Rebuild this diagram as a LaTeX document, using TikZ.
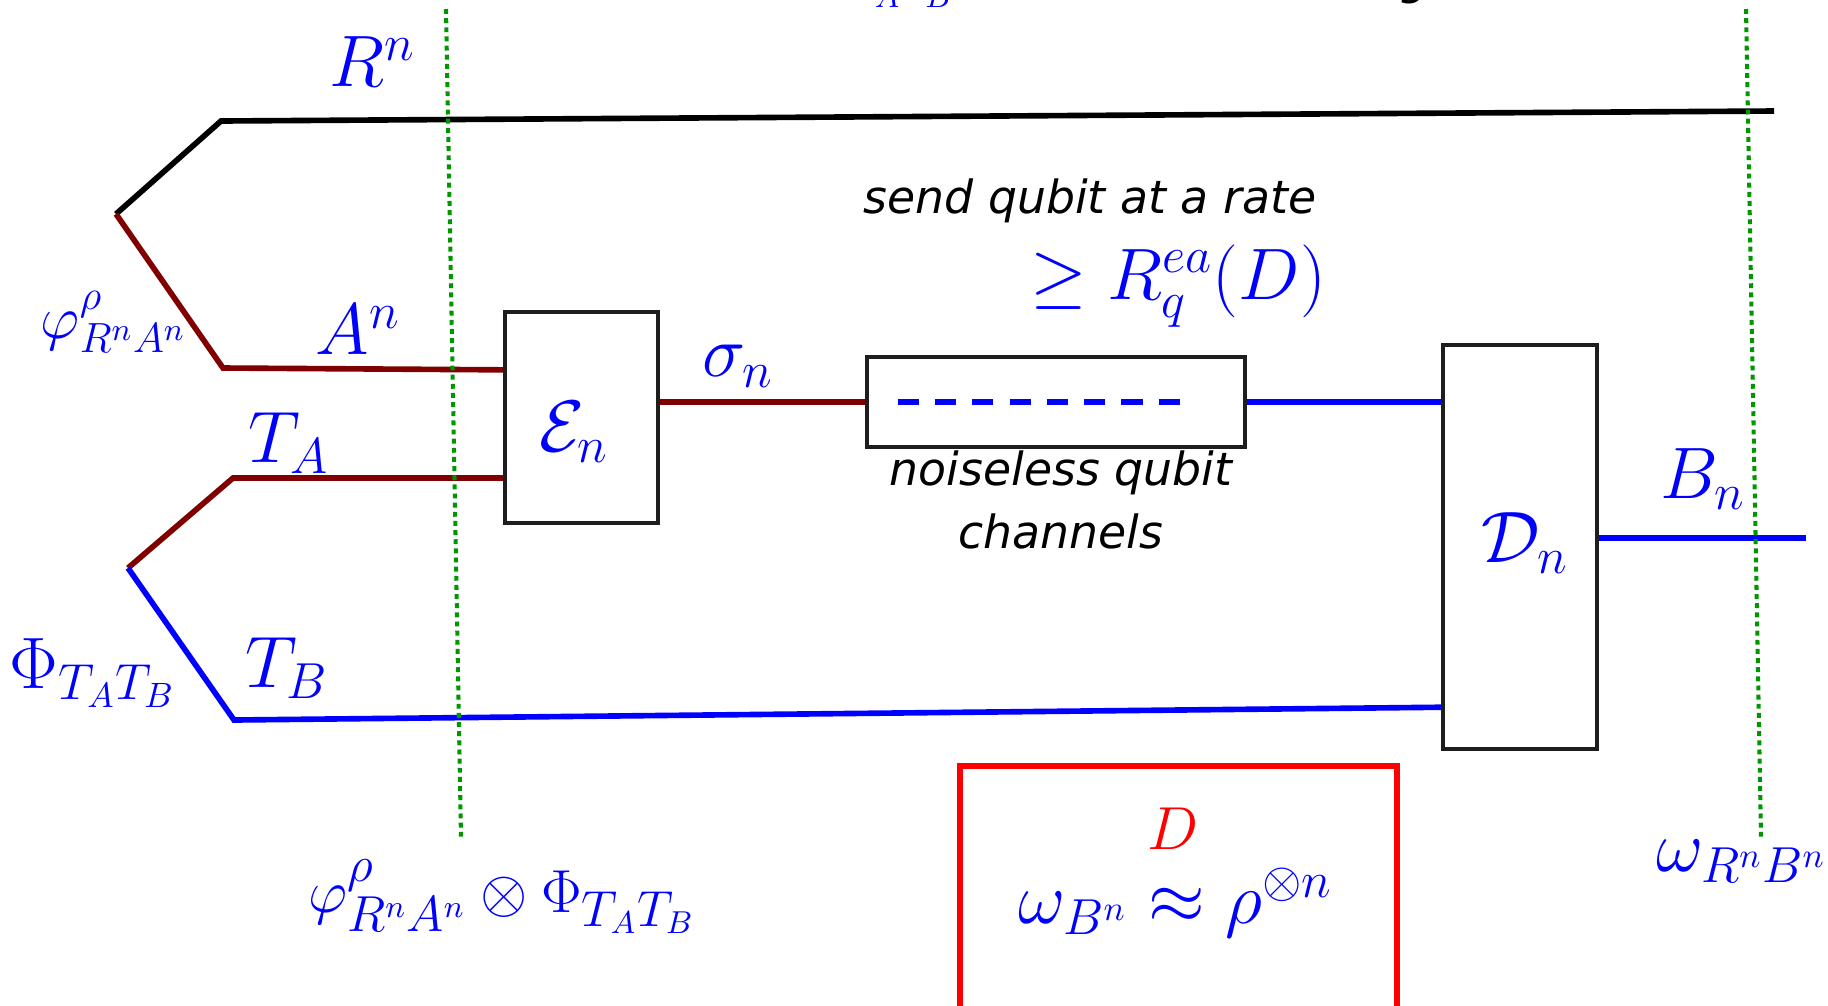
\documentclass[tikz,border=0pt]{standalone}
\usepackage{fontspec}
\usetikzlibrary{calc}
\newfontfamily\vsans{DejaVu Sans}
\definecolor{dred}{RGB}{128,0,0}
\definecolor{dgreen}{RGB}{0,150,0}
\definecolor{boxgray}{RGB}{30,30,30}
\newcommand\myfs[1]{\fontsize{#1}{#1}\selectfont}
\begin{document}
\begin{tikzpicture}[x=0.01cm,y=-0.01cm,
  wire/.style={line width=1.6pt},
  boxnode/.style={draw=boxgray,line width=1.2pt,rectangle,inner sep=0pt},
  mth/.style={text=blue,inner sep=0pt,font=\myfs{20}},
  txt/.style={text=black,inner sep=0pt,font=\vsans\itshape\myfs{13}},
  guide/.style={draw=dgreen,line width=1.15pt,dash pattern=on 1.4pt off 1.2pt}]
\useasboundingbox (0,0) rectangle (1828,1005);
\clip (0,0) rectangle (1828,1005);
% boxes
\node[boxnode,minimum width=1.53cm,minimum height=2.11cm] (En) at (581.5,417.5) {};
\node[boxnode,minimum width=3.78cm,minimum height=0.90cm] (Ch) at (1056,402) {};
\node[boxnode,minimum width=1.54cm,minimum height=4.04cm] (Dc) at (1520,547) {};
% coordinates
\coordinate (j1) at (116,214);
\coordinate (r1) at (221,121);
\coordinate (r2) at (1774,111);
\coordinate (a1) at (223,368);
\coordinate (j2) at (128,568);
\coordinate (t1) at (233,478);
\coordinate (b1) at (234,720);
\coordinate (bend) at (1806,538);
\coordinate (g1t) at (446,9);
\coordinate (g1b) at (461,838);
\coordinate (g2t) at (1746,9);
\coordinate (g2b) at (1761,838);
% wires
\draw[wire] (j1) -- (r1) -- (r2);
\draw[wire,dred] (j1) -- (a1) -- ($(En.north west)+(0,60)$);
\draw[wire,dred] (j2) -- (t1) -- (t1 -| En.west);
\draw[wire,blue] (j2) -- (b1) -- ($(Dc.south west)+(0,-44)$);
\draw[wire,dred] (Ch.west -| En.east) -- (Ch.west);
\draw[wire,blue,dash pattern=on 6pt off 4.6pt] ($(Ch.west)+(33,0)$) -- ($(Ch.west)+(318,0)$);
\draw[wire,blue] (Ch.east) -- (Ch.east -| Dc.west);
\draw[wire,blue] (Dc.east |- bend) -- (bend);
% guides
\draw[guide] (g1t) -- (g1b);
\draw[guide] (g2t) -- (g2b);
% red box
\draw[red,line width=1.5pt] (960,766) rectangle (1397,1040);
% labels
\node[mth] (lRn) at (373,62) {$R^n$};
\node[mth,font=\myfs{18}] (lphi) at (114,322) {$\varphi^{\rho}_{R^nA^n}$};
\node[mth] (lAn) at (358,330) {$A^n$};
\node[mth] (lTA) at (289,443) {$T_A$};
\node[mth] (lPhi) at (93,673) {$\Phi_{T_AT_B}$};
\node[mth] (lTB) at (287,668) {$T_B$};
\node[mth] (lEn) at (574,432) {$\mathcal{E}_n$};
\node[mth] (lsig) at (738,366) {$\sigma_n$};
\node[txt,anchor=base] (tsend) at (1090,213) {send qubit at a rate};
\node[mth] (lrate) at (1178,286) {$\geq R_q^{ea}(D)$};
\node[txt,anchor=base] (tnoise) at (1061,485) {noiseless qubit};
\node[txt,anchor=base] (tchan) at (1061,548) {channels};
\node[mth] (lDn) at (1525,543) {$\mathcal{D}_n$};
\node[mth] (lBn) at (1703,479) {$B_n$};
\node[mth] (lom) at (1742,861) {$\omega_{R^nB^n}$};
\node[mth,font=\myfs{19}] (lbot) at (502,897) {$\varphi^{\rho}_{R^nA^n}\otimes\Phi_{T_AT_B}$};
\node[text=red,inner sep=0pt,font=\myfs{16}] (lD) at (1173,829) {$D$};
\node[mth] (lapprox) at (1176,903) {$\omega_{B^n}\approx\rho^{\otimes n}$};
% clipped fragments at the top edge
\node[text=blue,inner sep=0pt,font=\myfs{13},anchor=base west] (ftop) at (850,0) {$T_AT_B$};
\node[txt,anchor=base west] (gtop) at (1400,-6) {g};
\end{tikzpicture}
\end{document}
